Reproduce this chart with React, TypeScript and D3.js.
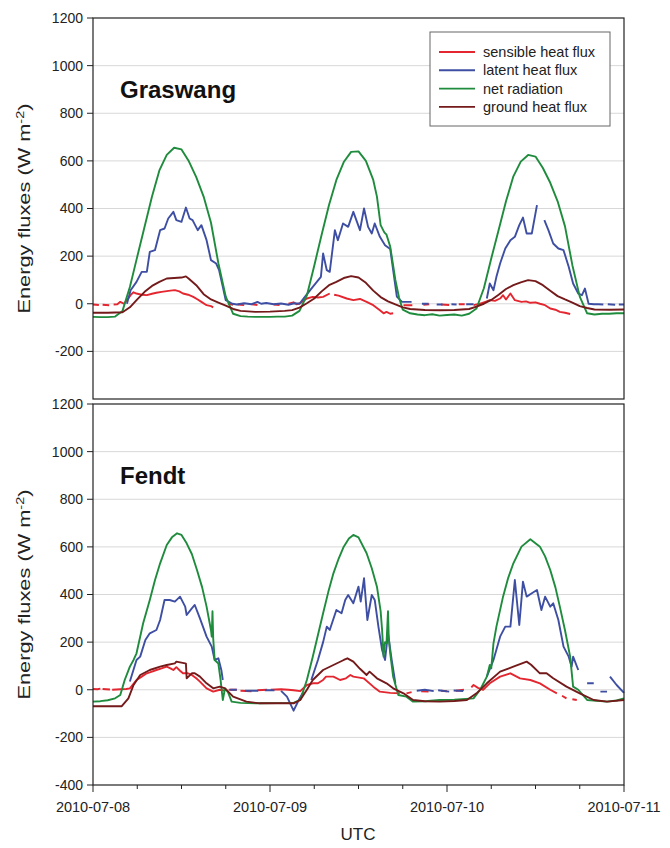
import React, { useEffect, useRef } from 'react';
import * as d3 from 'd3';

type Pt = [number, number] | null;

// hours since 2010-07-08 00:00 UTC, value in W m-2 (null = gap)
const startDay = Date.UTC(2010, 6, 8);
const yTicks = [-400, -200, 0, 200, 400, 600, 800, 1000, 1200];
const seriesNames = ['sensible heat flux', 'latent heat flux', 'net radiation', 'ground heat flux'];
const seriesColors = ['#e3262f', '#3e4fa3', '#1f8c3d', '#741a1a'];

const graswangSensible: Pt[] = [
  [0, -3], [0.8, -5], null, [1.3, -4], [2.2, -6], null, [2.8, -3], [3.3, -2], [3.7, 8], [4.2, 0],
  [4.6, 15], [5.2, 40], [5.5, 48], [5.9, 43], [6.6, 38], [7.3, 36], [8, 42], [8.6, 46], [9.3, 50],
  [10, 53], [10.5, 55], [11.1, 57], [11.7, 52], [12.2, 43], [12.9, 38], [13.6, 29], [14.2, 18],
  [14.7, 8], [15.4, -6], [16, -10], [16.3, -15], null,
  [18.3, 0], [19, -4], null, [19.6, -3], [20.5, -6], null, [21.5, -2], [22.3, -5], null,
  [24.5, -3], [25.3, -5], null, [26.5, 0], [27.2, 6], [27.6, -2], [28.1, 2], [28.5, 12], [29, 22],
  [29.8, 29], [30.5, 26], [31.2, 29], [32.1, 43], null, [32.7, 38], [33.3, 34], [34.4, 22],
  [35.3, 15], [36.2, 20], [37.1, 8], [38, -6], [38.9, -27], [39.4, -40], [39.8, -34], [40.3, -42],
  [40.7, -40], null,
  [42.1, -6], [43.3, -6], null, [44.8, -4], [45.6, -2], null, [47.2, -3], [48.3, -5], null,
  [49.6, -2], [50.4, -2], null, [51.6, -6], [52.5, 0], [53.2, 8], [53.8, 15], [54.5, 12], [55.2, 22],
  [55.6, 36], [56, 18], [56.6, 43], [57.2, 15], [58.1, 8], [58.7, 10], [59.3, 4], [60, 6], [60.6, 0],
  [61.3, -6], [62, -20], [62.7, -25], [63.3, -34], [64, -38], [64.7, -43]
];

const graswangLatent: Pt[] = [
  [4.6, 0], [5.1, 57], [5.9, 92], [6.6, 134], [7.3, 134], [7.7, 218], [8.4, 225], [9.1, 309],
  [9.7, 316], [10.2, 358], [10.9, 386], [11.3, 351], [12, 344], [12.6, 404], [13.1, 358],
  [13.5, 351], [14.2, 309], [14.7, 330], [15.4, 267], [16, 183], [16.7, 169], [17.1, 141],
  [17.6, 71], [18, 15], [18.9, 0], [19.5, -3], [20.5, 2], [21.5, -2], [22.3, 8], [22.8, 0],
  [23.5, 3], [24.5, -2], [25.5, 1], [26.5, -4], [27.3, 2], [28, 0], [28.7, 28], [29.8, 71],
  [30.9, 113], [31.2, 211], [31.7, 141], [32.1, 134], [32.8, 309], [33.2, 267], [33.9, 337],
  [34.6, 323], [35.3, 386], [36.2, 309], [36.75, 400], [37.3, 323], [37.8, 295], [38.2, 337],
  [38.9, 281], [39.6, 246], [40.3, 230], [41.2, 30], [41.9, 8], [43.2, 8], null,
  [44.6, 0], [45.5, 0], null, [46.6, -3], [47.4, -3], null, [48.6, -2], [49.3, -3], null,
  [50.6, -2], [51.6, -2], null,
  [53.4, 22], [53.8, 85], [54.3, 57], [54.7, 113], [55.2, 169], [55.9, 232], [56.6, 267],
  [57.2, 281], [57.8, 330], [58.3, 362], [58.8, 295], [59.5, 295], [60.2, 414], null,
  [61.2, 351], [61.75, 309], [62.4, 253], [63.1, 232], [63.8, 225], [64.5, 155], [65.1, 85],
  [65.8, 43], [66.3, 36], [66.7, 64], [67.2, 0], [67.9, -2], [68.5, -2], [69.2, -3], null,
  [69.8, -2], [70.8, -4], null, [71.3, -3], [72, -3]
];

const graswangNet: Pt[] = [
  [0, -55], [1, -56], [2, -56], [3, -54], [4, -30], [5, 70], [6, 198], [7, 324], [8, 450],
  [9, 560], [10, 625], [11, 655], [12, 648], [13, 598], [14, 532], [15, 450], [16, 340], [17, 170],
  [18, 30], [19, -42], [20, -52], [21, -54], [22, -55], [23, -55], [24, -55], [25, -54], [26, -54],
  [27, -50], [28, -30], [29, 35], [30, 160], [31, 290], [32, 415], [33, 520], [34, 595], [35, 638],
  [36, 640], [37, 600], [38, 520], [38.5, 450], [39, 330], [39.5, 300], [39.8, 290], [40.3, 240],
  [41, 100], [41.5, 25], [42, -25], [43, -40], [44, -45], [45, -48], [46, -44], [47, -50],
  [48, -47], [49, -45], [50, -50], [51, -42], [52, -20], [53, 65], [54, 190], [55, 310], [56, 430],
  [57, 535], [58, 597], [59, 625], [60, 618], [61, 570], [62, 508], [63, 430], [64, 325],
  [65, 162], [66, 30], [67, -40], [68, -45], [69, -42], [70, -42], [71, -40], [72, -40]
];

const graswangGround: Pt[] = [
  [0, -38], [2, -38], [4, -36], [5, -15], [6, 18], [7, 50], [8, 75], [9, 92], [10, 106],
  [11, 108], [12, 110], [12.6, 115], [13, 105], [14, 78], [15, 40], [16, 18], [17, 5], [18, -8],
  [19, -22], [20, -30], [22, -34], [24, -33], [26, -30], [27, -27], [28, -16], [29, 2], [30, 22],
  [31, 52], [32, 78], [33, 92], [34, 108], [35, 116], [36, 110], [37, 88], [38, 55], [39, 28],
  [40, 10], [41, -3], [42, -15], [43, -22], [45, -26], [47, -27], [49, -26], [51, -22], [52, -12],
  [53, 0], [54, 16], [55, 38], [56, 62], [57, 78], [58, 90], [59, 99], [60, 95], [61, 78],
  [62, 55], [63, 32], [64, 18], [65, 5], [66, -10], [67, -18], [68, -24], [70, -25], [72, -24]
];

const fendtSensible: Pt[] = [
  [0, 3], [0.6, 2], [1, 5], null, [1.3, 3], [2.3, 1], null, [2.6, 0], [3.7, 2], [4.5, 3], [5, 6],
  [5.9, 41], [6.6, 55], [7.3, 69], [8, 76], [8.6, 83], [9.3, 90], [10, 97], [10.5, 90], [10.9, 83],
  [11.3, 95], [11.8, 80], [12.2, 69], [12.8, 70], [13.4, 62], [14, 48], [14.5, 34], [15.4, 6],
  [16.3, -8], [17.2, 0], [17.8, -3], null,
  [18.4, 0], [19.5, 0], null, [20, -4], [21.5, -6], null, [22.3, -2], [23.6, 0], null,
  [24.1, 0], [25.5, 2], [26.5, 0], [27.2, -2], [28.1, -6], [29, 20], [29.8, 27], [30.5, 27],
  [31.2, 41], [31.6, 55], [32.6, 55], [33.5, 41], [34.3, 48], [34.9, 62], [35.3, 55], [36.7, 48],
  [38, 13], [38.9, -8], [40.3, -13], [41.6, -15], null,
  [42.5, -15], [43.2, -10], null, [44.5, -6], [45.5, -8], null, [47.2, -4], [48, -6], null,
  [49.2, -4], [50.3, 0], null, [51.3, 10], [51.6, 20], [52.2, 8], [52.9, 0], [53.8, 27],
  [55.2, 55], [56.6, 69], [57.9, 48], [59.3, 41], [60.6, 27], [62, 0], [62.9, -15], null,
  [63.6, -25], [64.2, -36], null, [65, -40], [65.6, -43]
];

const fendtLatent: Pt[] = [
  [5, 35], [5.9, 125], [6.4, 139], [7.1, 209], [7.7, 237], [8.6, 251], [9.1, 293], [9.7, 377],
  [10.4, 377], [11.1, 370], [11.8, 391], [12.5, 349], [12.7, 314], [13.4, 342], [13.8, 356],
  [14.5, 300], [15.4, 223], [16.1, 181], [16.5, 125], [17, 132], [17.4, 83], [17.6, 41], null,
  [18.6, 0], [19.5, 0], null, [20.6, -4], [22.4, -4], null, [23.3, -2], [24.6, -2], null,
  [25.5, -5], [26.3, -29], [27.2, -88], [27.9, -43], [28.5, -10], null,
  [29.6, 41], [30.5, 125], [31.2, 200], [31.7, 265], [32.1, 251], [33, 335], [33.7, 321],
  [34.2, 377], [34.6, 398], [35.3, 363], [36, 433], [36.3, 370], [36.75, 468], [37.2, 293],
  [37.8, 398], [38.2, 377], [38.7, 265], [39.2, 167], [39.6, 125], [40, 237], [40.5, 125],
  [41, 27], null,
  [43.9, -4], [45, 0], [46.2, -6], null, [46.8, -2], [48.3, -8], null, [48.9, -3], [50.2, -5], null,
  [53.4, 55], [54.3, 125], [55.2, 223], [55.9, 265], [56.6, 265], [57.2, 461], [57.8, 272],
  [58.3, 454], [58.8, 391], [59.5, 405], [60.2, 419], [60.8, 335], [61.3, 391], [62, 349],
  [62.4, 363], [63.1, 293], [63.8, 181], [64.5, 139], [64.9, 97], [65.1, 139], [65.8, 83], null,
  [67, 27], [67.9, 27], null, [68.8, -8], [69.7, -8], null, [70.1, 55], [71, 20], [72, -13]
];

const fendtNet: Pt[] = [
  [0, -50], [1, -48], [2, -44], [3, -36], [3.7, -22], [4.3, 41], [5, 97], [5.5, 125], [5.9, 153],
  [6.8, 279], [7.7, 377], [8.4, 460], [9.1, 531], [10, 608], [10.7, 640], [11.4, 657], [12, 650],
  [12.7, 615], [13.4, 570], [14.1, 503], [14.8, 430], [15.4, 349], [16, 250], [16.1, 223],
  [16.2, 330], [16.3, 215], [16.5, 125], [17, 110], [17.3, 41], [17.6, -43], [17.9, 6],
  [18.3, -10], [18.8, -50], [20, -55], [22.6, -57], [25, -56], [27.2, -55], [28.1, -43], [29, 41],
  [29.8, 139], [30.5, 230], [31.2, 321], [31.9, 410], [32.6, 489], [33.3, 550], [34, 601],
  [34.7, 635], [35.3, 650], [36, 640], [37.1, 573], [37.8, 510], [38.5, 433], [39, 330],
  [39.2, 251], [39.4, 139], [39.6, 200], [39.8, 195], [40, 330], [40.1, 220], [40.3, 153],
  [40.7, 55], [41.4, -22], [42.5, -29], [43.4, -50], [45, -48], [47, -43], [49, -42], [51.6, -36],
  [52.5, 0], [53.4, 55], [53.8, 104], [54, 90], [54.3, 195], [54.7, 265], [55.6, 391], [56.3, 470],
  [57, 531], [58.1, 601], [59.3, 632], [60.6, 601], [61.3, 560], [62, 503], [62.7, 430],
  [63.3, 349], [64, 250], [64.7, 139], [65.1, 13], [65.8, 0], [67, -43], [69.7, -50], [71, -45],
  [72, -36]
];

const fendtGround: Pt[] = [
  [0, -69], [3.9, -69], [4.8, -36], [5.5, 20], [6.4, 62], [7.7, 83], [9.1, 97], [10, 104],
  [11.1, 111], [11.3, 118], [12.5, 111], [12.6, 110], [12.7, 48], [13.4, 69], [13.8, 69],
  [14.5, 55], [15.4, 27], [16.3, 6], [17.2, 13], [17.9, 6], [19, -29], [20.8, -50], [22.6, -57],
  [25, -57], [27.2, -57], [28.1, -43], [29, 0], [29.8, 41], [31.2, 83], [32.6, 104], [34, 125],
  [34.5, 132], [35.3, 118], [36.2, 88], [37.1, 62], [37.5, 76], [38.5, 48], [39.8, 27], [40.7, 6],
  [42.1, -15], [43.4, -43], [45, -48], [47, -50], [49, -47], [50.7, -43], [52, -15], [53.4, 27],
  [55.2, 76], [57, 97], [58.8, 118], [59.4, 105], [60.6, 69], [61.5, 69], [62.4, 48], [64.2, 13],
  [66, -15], [67.9, -43], [69.7, -50], [72, -43]
];

const panels = [
  { name: 'Graswang', series: [graswangSensible, graswangLatent, graswangNet, graswangGround] },
  { name: 'Fendt', series: [fendtSensible, fendtLatent, fendtNet, fendtGround] }
];

const FONT = '"Liberation Sans", Arial, Helvetica, sans-serif';

const App = () => {
  const ref = useRef<SVGSVGElement | null>(null);

  useEffect(() => {
    if (!ref.current) return;
    const svg = d3.select(ref.current);
    svg.selectAll('*').remove();

    const left = 93;
    const right = 624;
    const bounds = [[18, 399], [404, 785]];

    const x = d3.scaleUtc()
      .domain([new Date(startDay), new Date(startDay + 3 * 86400000)])
      .range([left, right]);

    panels.forEach((p, pi) => {
      const [top, bottom] = bounds[pi];
      const y = d3.scaleLinear().domain([-400, 1200]).range([bottom, top]);
      const g = svg.append('g');

      // gridlines
      g.selectAll('.grid')
        .data(yTicks.filter(t => t > -400 && t < 1200))
        .enter()
        .append('line')
        .attr('x1', left)
        .attr('x2', right)
        .attr('y1', d => y(d))
        .attr('y2', d => y(d))
        .attr('stroke', '#d8d8d8')
        .attr('stroke-width', 1);

      // y ticks + labels
      const shown = pi === 0 ? yTicks.filter(t => t > -400) : yTicks;
      shown.forEach(t => {
        g.append('line')
          .attr('x1', left - 6)
          .attr('x2', left)
          .attr('y1', y(t))
          .attr('y2', y(t))
          .attr('stroke', '#222');
        g.append('text')
          .attr('x', left - 10)
          .attr('y', y(t))
          .attr('dy', '0.35em')
          .attr('text-anchor', 'end')
          .style('font-family', FONT)
          .style('font-size', '14px')
          .style('fill', '#222')
          .text(t);
      });

      // data lines
      const line = d3.line<Pt>()
        .defined(d => d !== null)
        .x(d => x(new Date(startDay + (d as [number, number])[0] * 3600000)))
        .y(d => y((d as [number, number])[1]));

      p.series.forEach((s, si) => {
        g.append('path')
          .datum(s)
          .attr('d', line)
          .attr('fill', 'none')
          .attr('stroke', seriesColors[si])
          .attr('stroke-width', 1.9)
          .attr('stroke-linejoin', 'round');
      });

      // frame
      g.append('rect')
        .attr('x', left)
        .attr('y', top)
        .attr('width', right - left)
        .attr('height', bottom - top)
        .attr('fill', 'none')
        .attr('stroke', '#222')
        .attr('stroke-width', 1.2);

      // site label
      g.append('text')
        .attr('x', 120)
        .attr('y', top + 80)
        .style('font-family', FONT)
        .style('font-size', '24px')
        .style('font-weight', 'bold')
        .style('fill', '#111')
        .text(p.name);

      // y axis title
      const yl = g.append('text')
        .attr('transform', `translate(30,${(top + bottom) / 2}) rotate(-90)`)
        .attr('text-anchor', 'middle')
        .attr('textLength', 210)
        .attr('lengthAdjust', 'spacingAndGlyphs')
        .style('font-family', FONT)
        .style('font-size', '16.5px')
        .style('fill', '#222');
      yl.append('tspan').text('Energy fluxes (W m');
      yl.append('tspan').attr('dy', -6).style('font-size', '11px').text('-2');
      yl.append('tspan').attr('dy', 6).text(')');
    });

    // legend
    const lg = svg.append('g');
    lg.append('rect')
      .attr('x', 430)
      .attr('y', 32)
      .attr('width', 180)
      .attr('height', 94)
      .attr('fill', '#fff')
      .attr('stroke', '#666')
      .attr('stroke-width', 1);
    seriesNames.forEach((n, i) => {
      const ly = 52 + i * 18.3;
      lg.append('line')
        .attr('x1', 439)
        .attr('x2', 475)
        .attr('y1', ly)
        .attr('y2', ly)
        .attr('stroke', seriesColors[i])
        .attr('stroke-width', 1.9);
      lg.append('text')
        .attr('x', 483)
        .attr('y', ly)
        .attr('dy', '0.35em')
        .style('font-family', FONT)
        .style('font-size', '14.5px')
        .style('fill', '#222')
        .text(n);
    });

    // bottom x axis
    const axisY = bounds[1][1];
    const ticks = x.ticks(d3.utcHour.every(6) as d3.CountableTimeInterval);
    ticks.forEach(t => {
      const major = t.getUTCHours() === 0;
      svg.append('line')
        .attr('x1', x(t))
        .attr('x2', x(t))
        .attr('y1', axisY)
        .attr('y2', axisY + (major ? 7 : 4))
        .attr('stroke', '#222');
      if (major) {
        svg.append('text')
          .attr('x', x(t))
          .attr('y', 812)
          .attr('text-anchor', 'middle')
          .style('font-family', FONT)
          .style('font-size', '14.5px')
          .style('fill', '#222')
          .text(d3.utcFormat('%Y-%m-%d')(t));
      }
    });

    svg.append('text')
      .attr('x', 358)
      .attr('y', 840)
      .attr('text-anchor', 'middle')
      .style('font-family', FONT)
      .style('font-size', '17px')
      .style('fill', '#222')
      .text('UTC');
  }, []);

  return (
    <svg
      ref={ref}
      width={670}
      height={848}
      style={{ position: 'absolute', left: 0, top: 0, background: '#fff' }}
    />
  );
};

export default App;
